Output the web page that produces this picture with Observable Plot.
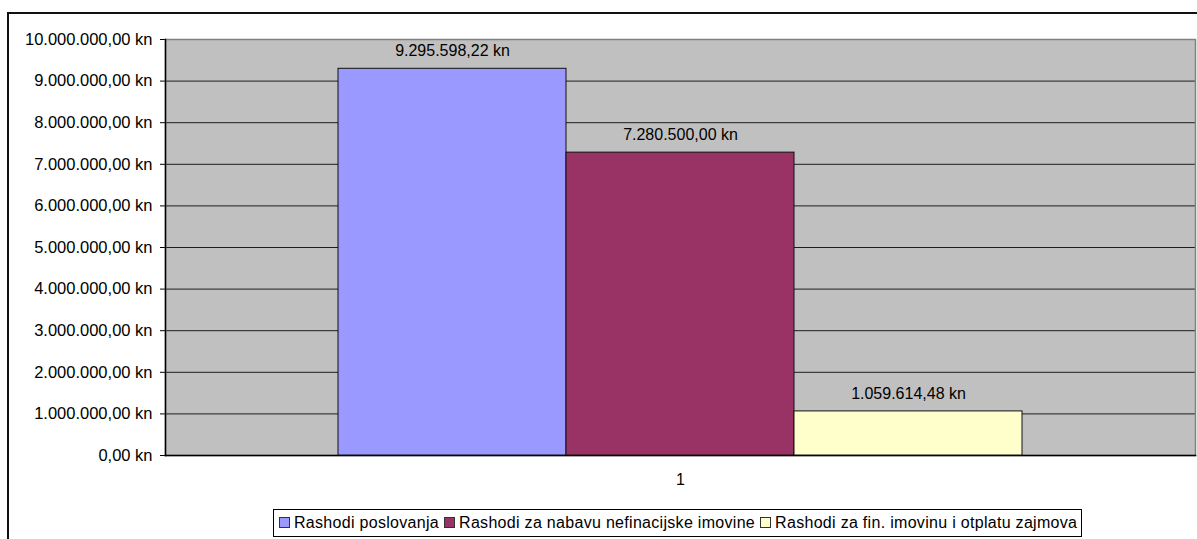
<!DOCTYPE html>
<html>
<head>
<meta charset="utf-8">
<script src="https://cdn.jsdelivr.net/npm/d3@7"></script>
<script src="https://cdn.jsdelivr.net/npm/@observablehq/plot@0.6"></script>
<style>
  html, body { margin: 0; padding: 0; background: #fff; overflow: hidden; width: 1197px; height: 539px; }
  body { font-family: Arial, "Liberation Sans", sans-serif; position: relative; }
  #border { position: absolute; left: 7px; top: 12px; width: 1300px; height: 700px; border-left: 2px solid #111; border-top: 2px solid #111; pointer-events: none; }
  #chart { position: absolute; left: 0; top: 0; }
  #legend { position: absolute; left: 273px; top: 509px; border: 1px solid #000; background: #fff; font-size: 16px; letter-spacing: 0.3px; padding: 3px 4px 4px 5px; display: flex; align-items: center; white-space: nowrap; line-height: 19px; }
  .item { display: flex; align-items: center; margin-right: 5px; }
  .item:last-child { margin-right: 0; }
  .sw { width: 9px; height: 9px; border: 1px solid #333; margin-right: 4px; display: inline-block; }
  #chart svg g[aria-label="y-axis tick label"] text { font-size: 16.5px; }
</style>
</head>
<body>
<div id="chart"></div>
<div id="legend"></div>
<div id="border"></div>
<script>
const categories = ["1"];
const series = ["Rashodi poslovanja", "Rashodi za nabavu nefinacijske imovine", "Rashodi za fin. imovinu i otplatu zajmova"];
const values = [9295598.22, 7280500.00, 1059614.48];
const colors = ["#9999FF", "#993366", "#FFFFCC"];
const yTicks = [0, 1000000, 2000000, 3000000, 4000000, 5000000, 6000000, 7000000, 8000000, 9000000, 10000000];

const locale = d3.formatLocale({decimal: ",", thousands: ".", grouping: [3], currency: ["", " kn"]});
const fmt = locale.format("$,.2f");

const data = series.map((s, i) => ({category: categories[0], series: s, value: values[i]}));

const chart = Plot.plot({
  width: 1197,
  height: 500,
  marginLeft: 165,
  marginRight: 2,
  marginTop: 39,
  marginBottom: 45,
  style: {fontFamily: "Arial, 'Liberation Sans', sans-serif", fontSize: "16px", color: "#000", background: "transparent"},
  fx: {domain: categories, padding: 0, label: null, axis: "bottom", tickSize: 0, tickPadding: 18},
  x: {domain: series, paddingInner: 0, paddingOuter: 0.75, axis: null},
  y: {domain: [0, 10000000], ticks: yTicks, tickFormat: fmt, tickSize: 5, tickPadding: 8, label: null},
  color: {domain: series, range: colors},
  marks: [
    Plot.frame({fill: "#c0c0c0"}),
    Plot.ruleY(yTicks.filter(v => v < 10000000), {stroke: "#000", strokeOpacity: 0.85}),
    Plot.frame({stroke: "#808080", strokeWidth: 1.5}),
    Plot.frame({anchor: "left", stroke: "#000", strokeWidth: 1.5}),
    Plot.frame({anchor: "bottom", stroke: "#000", strokeWidth: 1.5}),
    Plot.barY(data, {fx: "category", x: "series", y: "value", fill: "series", stroke: "#111", strokeWidth: 1}),
    Plot.text(data, {fx: "category", x: "series", y: "value", text: d => fmt(d.value), dy: -18, fill: "#000"})
  ]
});
document.getElementById("chart").appendChild(chart);

const legend = document.getElementById("legend");
series.forEach((s, i) => {
  const item = document.createElement("span");
  item.className = "item";
  const sw = document.createElement("span");
  sw.className = "sw";
  sw.style.background = colors[i];
  item.appendChild(sw);
  item.appendChild(document.createTextNode(s));
  legend.appendChild(item);
});
</script>
</body>
</html>
